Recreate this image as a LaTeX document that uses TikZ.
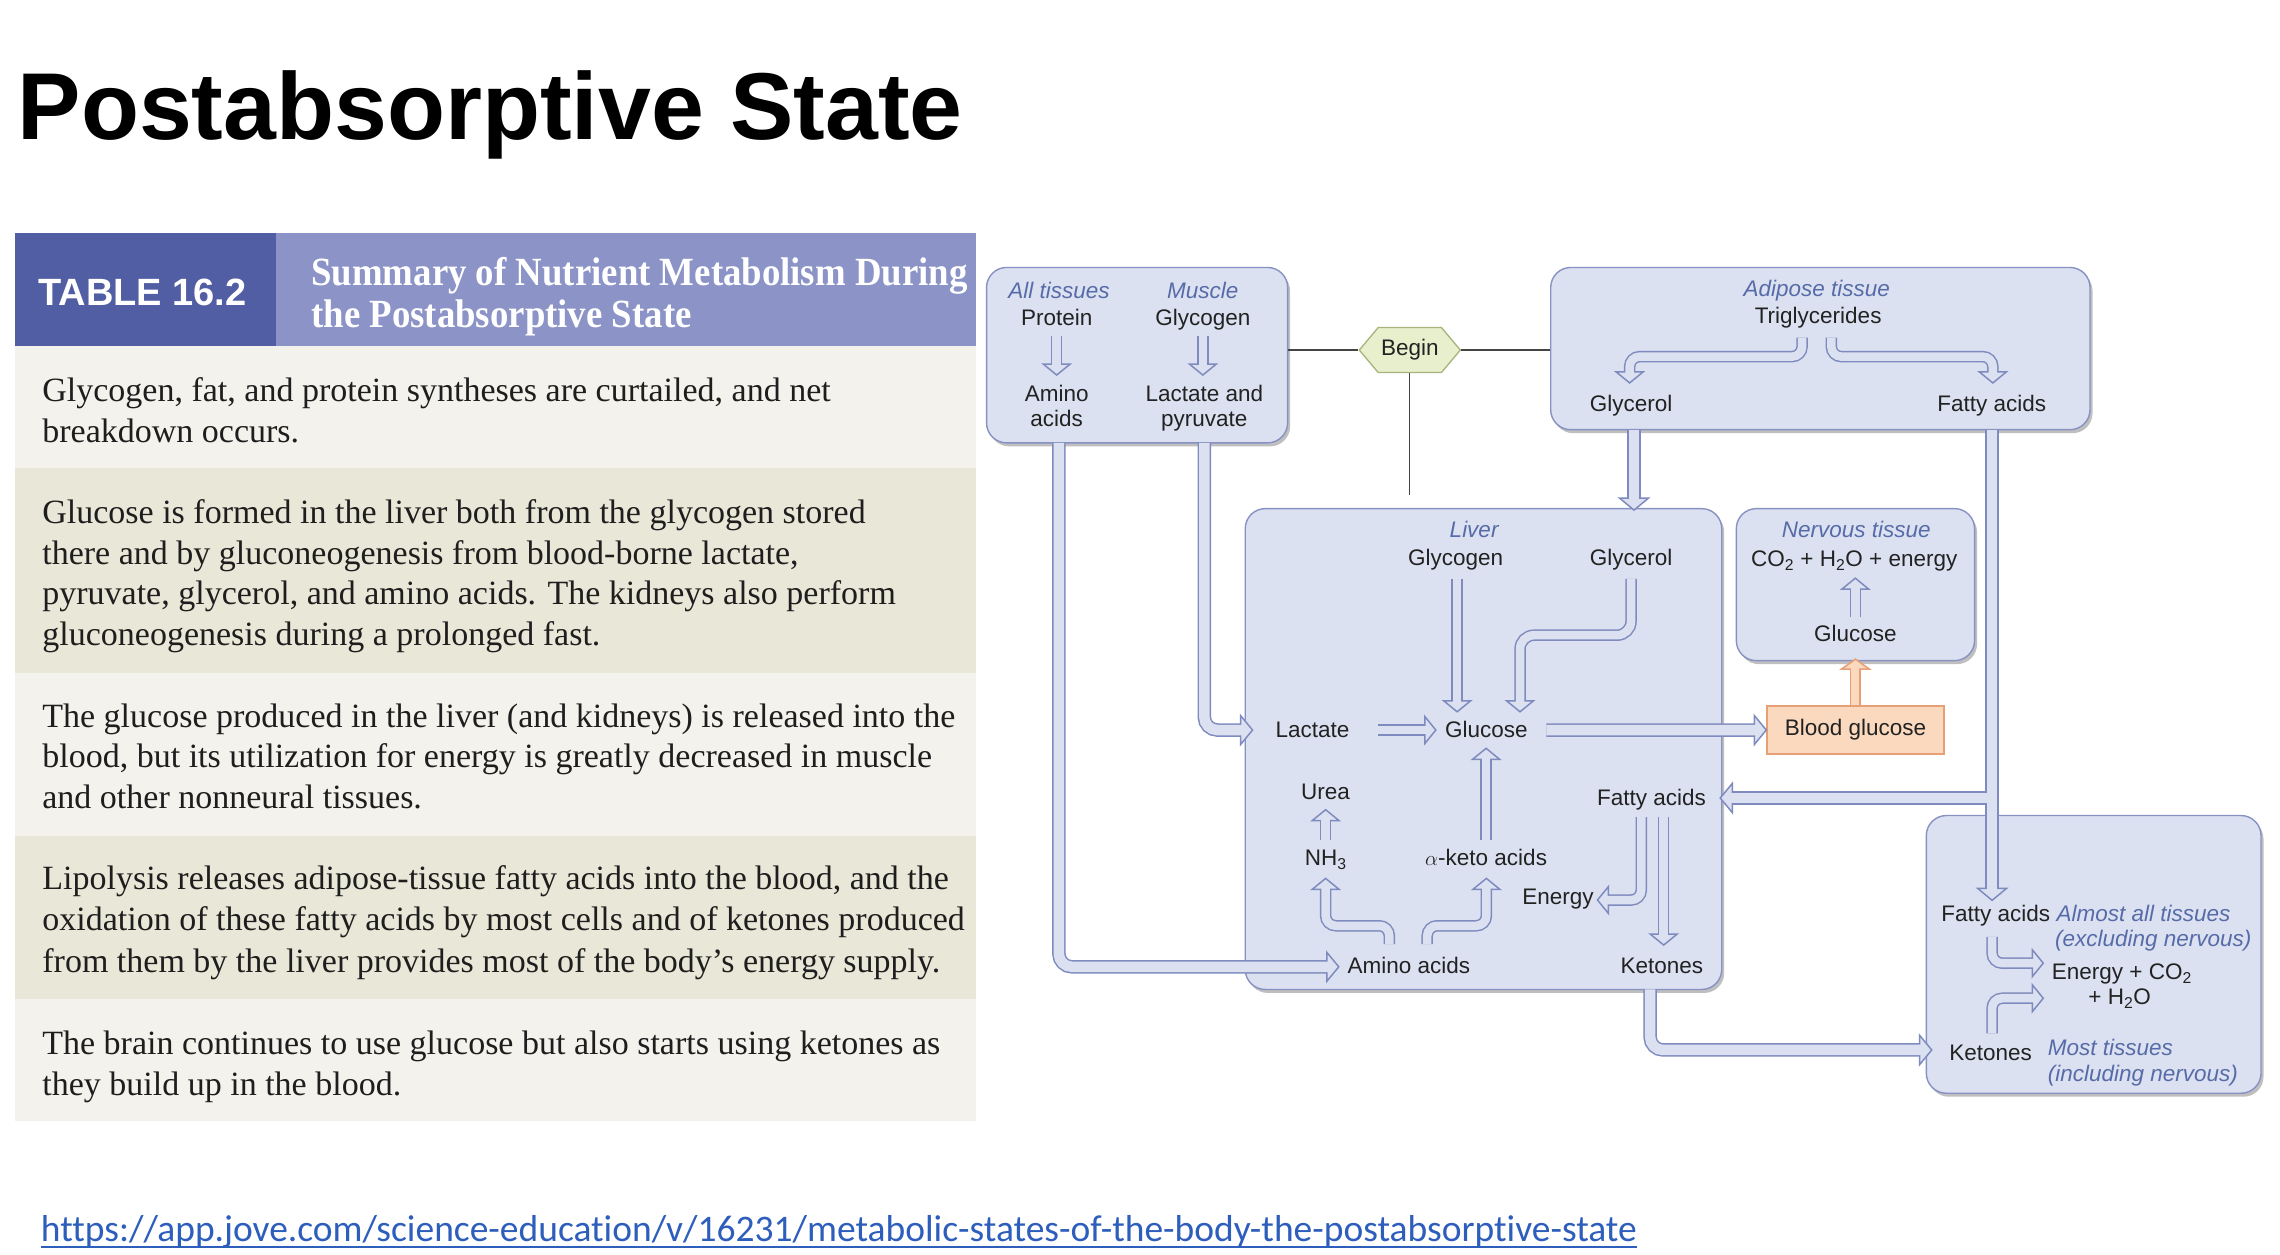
\documentclass[tikz,border=0pt]{standalone}
\usepackage{fontspec}
\setmainfont{Liberation Serif}
\setsansfont{Liberation Sans}
\newfontfamily\hdrserif[FakeStretch=0.92]{Liberation Serif}
\newfontfamily\urlfont[Ligatures=NoCommon]{Carlito}
\usetikzlibrary{shapes.symbols,decorations.markings,shadows,fit}
\definecolor{boxfill}{HTML}{DCE1F1}
\definecolor{boxline}{HTML}{8792C2}
\definecolor{lbl}{HTML}{566BA7}
\definecolor{pipeline}{HTML}{7F8BBE}
\definecolor{hexfill}{HTML}{E8EFCD}
\definecolor{hexline}{HTML}{A6B47C}
\definecolor{bgfill}{HTML}{FAD9BE}
\definecolor{bgline}{HTML}{E5A075}
\definecolor{hdrdark}{HTML}{525EA4}
\definecolor{hdrlight}{HTML}{8B93C7}
\definecolor{rowlight}{HTML}{F4F2EC}
\definecolor{rowdark}{HTML}{E9E7D7}
\definecolor{urlblue}{HTML}{2E5EBC}
\definecolor{labtext}{HTML}{222222}
\definecolor{tabtext}{HTML}{1E1E1E}
\definecolor{beginline}{HTML}{444444}
\tikzset{
  hollow/.style n args={7}{draw=none,
    preaction={draw=#1, line width=#3, shorten >=#6},
    postaction={decorate, decoration={markings, mark=at position 1 with {\filldraw[sharp corners, draw=#1, fill=#2, line width=1.5pt, line join=miter] (-#6,#5) -- (0pt,0pt) -- (-#6,-#5) -- cycle;}}},
    postaction={draw=#2, line width=#4, shorten >=#7}},
  pipe/.style={rounded corners=13pt, hollow={pipeline}{boxfill}{13.5pt}{10.5pt}{14.5pt}{12pt}{10.5pt}},
  thin/.style={rounded corners=10pt, hollow={pipeline}{boxfill}{11.5pt}{8.5pt}{13.5pt}{11pt}{9.5pt}},
  orange/.style={hollow={bgline}{bgfill}{11pt}{8pt}{14pt}{10pt}{8.5pt}},
  box/.style={draw=boxline, fill=boxfill, line width=1.4pt, rounded corners=20pt, inner sep=0pt,
    drop shadow={shadow xshift=2.5pt, shadow yshift=-3.5pt, fill=black, opacity=0.25}},
  lab/.style={font=\sffamily\fontsize{22.5}{25}\selectfont, text=labtext, inner sep=0pt, anchor=base},
  itl/.style={lab, font=\sffamily\itshape\fontsize{22.5}{25}\selectfont, text=lbl},
  ttxt/.style={font=\fontsize{34}{41}\selectfont, text=tabtext, inner sep=0pt, anchor=base west},
  bline/.style={draw=beginline, line width=1.3pt},
}
\begin{document}
\begin{tikzpicture}[x=1.461538pt, y=-1.461538pt]
\path[use as bounding box, fill=white] (0,0) rectangle (1560,858);
\begin{scope}[scale=0.995]
% title
\node[anchor=base west, inner sep=0pt, font=\sffamily\bfseries\fontsize{95}{110}\selectfont] (title) at (12,96) {Postabsorptive State};
% table
\fill[hdrdark] (10,160) rectangle (190,238);
\fill[hdrlight] (190,160) rectangle (671,238);
\fill[rowlight] (10,238) rectangle (671,322);
\fill[rowdark] (10,322) rectangle (671,463);
\fill[rowlight] (10,463) rectangle (671,575);
\fill[rowdark] (10,575) rectangle (671,687);
\fill[rowlight] (10,687) rectangle (671,771);
\node[anchor=base, inner sep=0pt, text=white, font=\sffamily\bfseries\fontsize{38}{40}\selectfont] (tabno) at (98,210) {TABLE 16.2};
\node[anchor=base west, inner sep=0pt, text=white, font=\hdrserif\bfseries\fontsize{40}{42}\selectfont] (hd1) at (214,196) {Summary of Nutrient Metabolism During};
\node[anchor=base west, inner sep=0pt, text=white, font=\hdrserif\bfseries\fontsize{40}{42}\selectfont] (hd2) at (214,225) {the Postabsorptive State};
\node[ttxt] (r1a) at (29,276) {Glycogen, fat, and protein syntheses are curtailed, and net};
\node[ttxt] (r1b) at (29,304) {breakdown occurs.};
\node[ttxt] (r2a) at (29,360) {Glucose is formed in the liver both from the glycogen stored};
\node[ttxt] (r2b) at (29,388) {there and by gluconeogenesis from blood-borne lactate,};
\node[ttxt] (r2c) at (29,416) {pyruvate, glycerol, and amino acids. The kidneys also perform};
\node[ttxt] (r2d) at (29,444) {gluconeogenesis during a prolonged fast.};
\node[ttxt] (r3a) at (29,500) {The glucose produced in the liver (and kidneys) is released into the};
\node[ttxt] (r3b) at (29,528) {blood, but its utilization for energy is greatly decreased in muscle};
\node[ttxt] (r3c) at (29,556) {and other nonneural tissues.};
\node[ttxt] (r4a) at (29,612) {Lipolysis releases adipose-tissue fatty acids into the blood, and the};
\node[ttxt] (r4b) at (29,640) {oxidation of these fatty acids by most cells and of ketones produced};
\node[ttxt] (r4c) at (29,669) {from them by the liver provides most of the body’s energy supply.};
\node[ttxt] (r5a) at (29,725) {The brain continues to use glucose but also starts using ketones as};
\node[ttxt] (r5b) at (29,753) {they build up in the blood.};
% url
\node[anchor=base west, inner sep=0pt, text=urlblue, font=\urlfont\fontsize{37.5}{40}\selectfont] (url) at (28,854) {https://app.jove.com/science-education/v/16231/metabolic-states-of-the-body-the-postabsorptive-state};
\draw[urlblue, line width=2pt] ([yshift=-5pt]url.base west) -- ([yshift=-5pt]url.base east);
\end{scope}

% ---------- diagram boxes ----------
\node[box, fit={(675,183) (881,303)}] (tlbox) {};
\node[box, fit={(1061,183) (1430,294)}] (adbox) {};
\node[box, fit={(852,348) (1178,677)}] (livbox) {};
\node[box, fit={(1188,348) (1351,452)}] (nerbox) {};
\node[box, fit={(1318,558) (1547,748)}] (brbox) {};
\node[draw=bgline, fill=bgfill, line width=1.4pt, inner sep=0pt, fit={(1209,483) (1330,516)}] (bgbox) {};
\node[lab, anchor=center] (bgtxt) at (bgbox.center) {Blood glucose};

% begin
\node[signal, signal to=east and west, signal pointer angle=100, draw=hexline, fill=hexfill, line width=1.3pt,
  minimum width=101pt, minimum height=45pt, inner sep=0pt, font=\sffamily\fontsize{22.5}{25}\selectfont, text=labtext] (begin) at (964.6,239.5) {Begin};
\coordinate (bl) at (tlbox.east |- begin.west);
\coordinate (br) at (adbox.west |- begin.east);
\coordinate (bd) at (964.6,339);
\draw[bline] (bl) -- (begin.west);
\draw[bline] (begin.east) -- (br);
\draw[bline] (begin.south) -- (bd);

% ---------- pipes ----------
\coordinate (p1a) at (724.5,303);
\coordinate (p1b) at (724.5,661.5);
\coordinate (p1c) at (916,661.5);
\path[pipe] (p1a) -- (p1b) -- (p1c);
\coordinate (p2a) at (824,303);
\coordinate (p2b) at (824,499.5);
\coordinate (p2c) at (857,499.5);
\path[pipe] (p2a) -- (p2b) -- (p2c);
\coordinate (p3a) at (1118,294);
\coordinate (p3b) at (1118,349);
\path[pipe] (p3a) -- (p3b);
\coordinate (p4a) at (1363,294);
\coordinate (p4b) at (1363,616);
\path[pipe] (p4a) -- (p4b);
\coordinate (p5a) at (1363,546);
\coordinate (p5b) at (1177,546);
\path[pipe] (p5a) -- (p5b);
\draw[boxfill, line width=10.5pt] (1363,536) -- (1363,556);
\coordinate (p6a) at (1058,499.5);
\coordinate (p6b) at (bgbox.west);
\path[pipe] (p6a) -- (p6b);
\coordinate (p7a) at (bgbox.north);
\coordinate (p7b) at (1269.5,451);
\path[orange] (p7a) -- (p7b);
\coordinate (p8a) at (1129,677);
\coordinate (p8b) at (1129,718.4);
\coordinate (p8c) at (1321.7,718.4);
\path[pipe] (p8a) -- (p8b) -- (p8c);

% ---------- thin arrows ----------
\path[thin] (723,230) -- (723,256.6);
\path[thin] (823,230) -- (823,256.6);
\path[thin] (1233,231) -- (1233,244) -- (1115,244) -- (1115,262);
\path[thin] (1253,231) -- (1253,244) -- (1363.5,244) -- (1363.5,262);
\path[thin] (997,396) -- (997,487);
\path[thin, rounded corners=14pt] (1116,396) -- (1116,434.6) -- (1040,434.6) -- (1040,487);
\path[thin] (943,499.5) -- (982.4,499.5);
\path[thin] (1269.4,422) -- (1269.4,395.6);
\path[thin] (907,574.8) -- (907,554);
\path[thin] (1016.8,574.8) -- (1016.8,512);
\path[thin] (950.6,646) -- (950.6,633.4) -- (907,633.4) -- (907,601);
\path[thin] (976.5,646) -- (976.5,633.4) -- (1017,633.4) -- (1017,601);
\path[thin] (1123,559) -- (1123,615.8) -- (1093,615.8);
\path[thin] (1138.3,559) -- (1138.3,646.6);
\path[thin] (1363,641) -- (1363,659) -- (1398,659);
\path[thin] (1363,707) -- (1363,683) -- (1398,683);

% ---------- labels ----------
\node[itl] (l1) at (724.6,204) {All tissues};
\node[lab] (l2) at (723,222.4) {Protein};
\node[lab] (l3) at (723,274.8) {Amino};
\node[lab] (l4) at (723,292) {acids};
\node[itl] (l5) at (823,204) {Muscle};
\node[lab] (l6) at (823,222.4) {Glycogen};
\node[lab] (l7) at (824,274.8) {Lactate and};
\node[lab] (l8) at (824,292) {pyruvate};
\node[itl] (l9) at (1243,203) {Adipose tissue};
\node[lab] (l10) at (1244,221) {Triglycerides};
\node[lab] (l11) at (1116,281.7) {Glycerol};
\node[lab] (l12) at (1362.7,281.7) {Fatty acids};
\node[itl] (l13) at (1008.6,368) {Liver};
\node[lab] (l14) at (996,386.6) {Glycogen};
\node[lab] (l15) at (1116,386.6) {Glycerol};
\node[lab] (l16) at (898,504.5) {Lactate};
\node[lab] (l17) at (1017,504.5) {Glucose};
\node[lab] (l18) at (907,546.8) {Urea};
\node[lab] (l19) at (907,592.5) {NH\textsubscript{3}};
\node[lab] (l20) at (1016.8,592.5) {$\alpha$-keto acids};
\node[lab] (l21) at (1130,550.8) {Fatty acids};
\node[lab] (l22) at (1066,619) {Energy};
\node[lab] (l23) at (964,666) {Amino acids};
\node[lab] (l24) at (1137,666) {Ketones};
\node[itl] (l25) at (1270,368) {Nervous tissue};
\node[lab] (l26) at (1268.7,387.7) {CO\textsubscript{2} + H\textsubscript{2}O + energy};
\node[lab] (l27) at (1269.4,439) {Glucose};
\node[lab] (l28) at (1365.5,630.6) {Fatty acids};
\node[itl, anchor=base west] (l29) at (1407,630.6) {Almost all tissues};
\node[itl, anchor=base west] (l30) at (1406,647.7) {(excluding nervous)};
\node[lab, anchor=base west] (l31) at (1403.8,670.5) {Energy + CO\textsubscript{2}};
\node[lab, anchor=base west] (l32) at (1428.8,687.6) {+ H\textsubscript{2}O};
\node[lab] (l33) at (1362,725.3) {Ketones};
\node[itl, anchor=base west] (l34) at (1401,721.9) {Most tissues};
\node[itl, anchor=base west] (l35) at (1401,740) {(including nervous)};
\end{tikzpicture}
\end{document}
